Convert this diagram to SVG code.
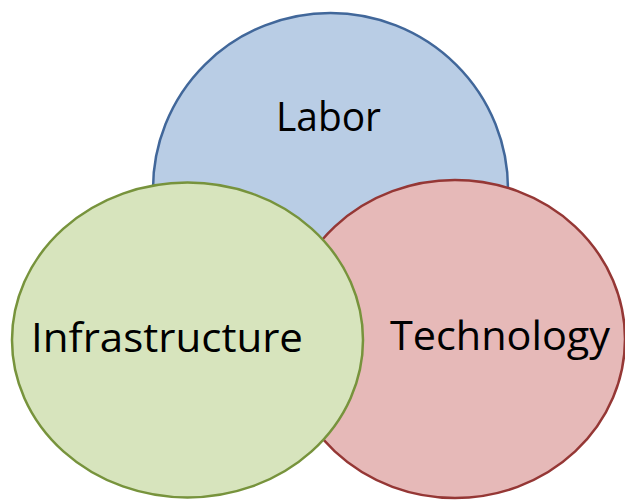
<svg xmlns="http://www.w3.org/2000/svg" width="625" height="500" viewBox="0 0 625 500">
  <style>
    .circle { stroke-width: 2.5; }
    .labor { fill: #b9cde5; stroke: #41679a; }
    .tech { fill: #e6b9b8; stroke: #953735; }
    .infra { fill: #d7e4bd; stroke: #77933c; }
    .label { font-family: "Open Sans", "Noto Sans", "Liberation Sans", sans-serif; font-size: 40px; fill: #000000; }
  </style>
  <rect width="625" height="500" fill="#ffffff"/>
  <g id="labor">
    <ellipse class="circle labor" cx="330.5" cy="189" rx="177.5" ry="176"/>
    <text class="label" x="276" y="131" textLength="105" lengthAdjust="spacingAndGlyphs">Labor</text>
  </g>
  <g id="technology">
    <ellipse class="circle tech" cx="455" cy="339" rx="170" ry="159"/>
    <text class="label" x="390" y="350" textLength="220" lengthAdjust="spacingAndGlyphs">Technology</text>
  </g>
  <g id="infrastructure">
    <ellipse class="circle infra" cx="187.5" cy="340" rx="175.5" ry="157.5"/>
    <text class="label" x="31" y="352" textLength="272" lengthAdjust="spacingAndGlyphs">Infrastructure</text>
  </g>
  <g id="connectors"/>
</svg>
